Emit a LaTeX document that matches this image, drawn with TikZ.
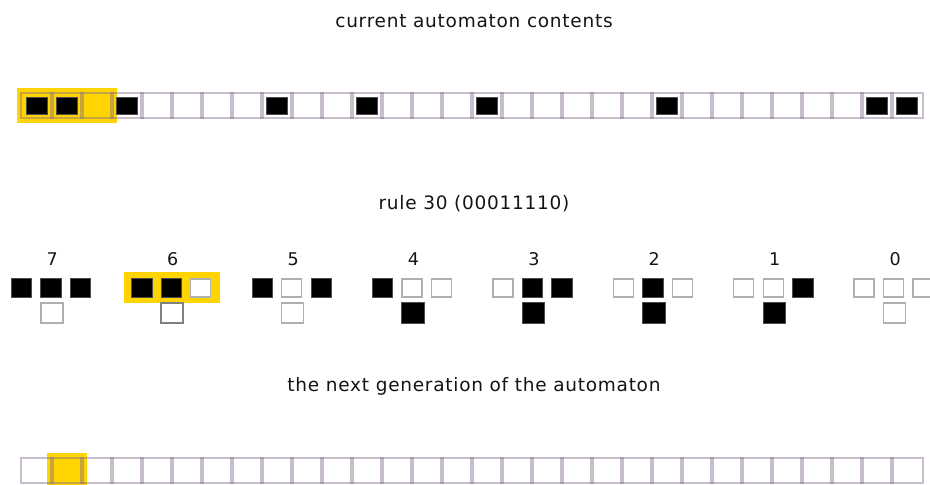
\documentclass[tikz,border=0pt]{standalone}
\usepackage{fontspec}
\setmainfont{DejaVu Sans}
\newfontfamily\lblfont[LetterSpace=4]{DejaVu Sans}
\definecolor{gridc}{RGB}{130,108,140}
\definecolor{hilite}{RGB}{255,212,0}
\definecolor{emptyc}{RGB}{175,175,175}
\definecolor{txtc}{RGB}{20,20,20}
\begin{document}
\begin{tikzpicture}[x=1pt,y=-1pt,
  cell/.style={draw=gridc, draw opacity=0.45, line width=2pt, minimum width=31.5pt, minimum height=25pt, inner sep=0pt, outer sep=0pt},
  dot/.style={fill=black, draw=black!70, line width=0.6pt, minimum width=21pt, minimum height=17pt, inner sep=0pt},
  hlbox/.style={fill=hilite, draw=none, inner sep=0pt},
  sqon/.style={fill=black, draw=black!70, line width=0.6pt, minimum width=20.5pt, minimum height=18.5pt, inner sep=0pt},
  sqoff/.style={fill=white, draw=emptyc, line width=1.4pt, minimum width=20pt, minimum height=18pt, inner sep=0pt},
  outon/.style={sqon, minimum width=22.5pt, minimum height=20.5pt},
  outoff/.style={sqoff, minimum width=22pt, minimum height=20pt},
  outsel/.style={sqoff, draw=black!50, line width=1.9pt, minimum width=22pt, minimum height=20pt},
  title/.style={font=\lblfont\fontsize{18.5}{22}\selectfont, text=txtc, inner sep=0pt, anchor=base},
  digit/.style={font=\lblfont\fontsize{17.5}{21}\selectfont, text=txtc, inner sep=0pt, anchor=base}]
\useasboundingbox (0,0) rectangle (930,485);

% titles
\node[title] (ttop) at (474,27.5) {current automaton contents};
\node[title] (trule) at (474,209.5) {rule 30 (00011110)};
\node[title] (tnext) at (474,391) {the next generation of the automaton};

% current automaton
\node[hlbox, minimum width=100pt, minimum height=35pt] (hlA) at (67,105.5) {};
\foreach \i in {0,...,29}
  \node[cell] (t\i) at ({37+30*\i},105.5) {};
\foreach \i in {0,1,3,8,11,15,21,28,29}
  \node[dot] (td\i) at (t\i) {};

% next generation
\node[hlbox, minimum width=40pt, minimum height=36pt] (hlB) at (67,471) {};
\foreach \i in {0,...,29}
  \node[cell] (b\i) at ({37+30*\i},470.5) {};

% rule table
\node[hlbox, minimum width=96pt, minimum height=31pt] (hlR) at (172,287.5) {};
\foreach \k/\a/\b/\c/\o in {7/sqon/sqon/sqon/outoff, 6/sqon/sqon/sqoff/outsel,
    5/sqon/sqoff/sqon/outoff, 4/sqon/sqoff/sqoff/outon, 3/sqoff/sqon/sqon/outon,
    2/sqoff/sqon/sqoff/outon, 1/sqoff/sqoff/sqon/outon, 0/sqoff/sqoff/sqoff/outoff} {
  \pgfmathsetmacro\cx{50.8+120.4*(7-\k)}
  \node[digit] (d\k) at (\cx+1.5,265) {\k};
  \node[\a] (r\k l) at (\cx-29.5,288) {};
  \node[\b] (r\k m) at (\cx,288) {};
  \node[\c] (r\k r) at (\cx+29.5,288) {};
  \node[\o] (r\k o) at (\cx+1,313) {};
}
\end{tikzpicture}
\end{document}
